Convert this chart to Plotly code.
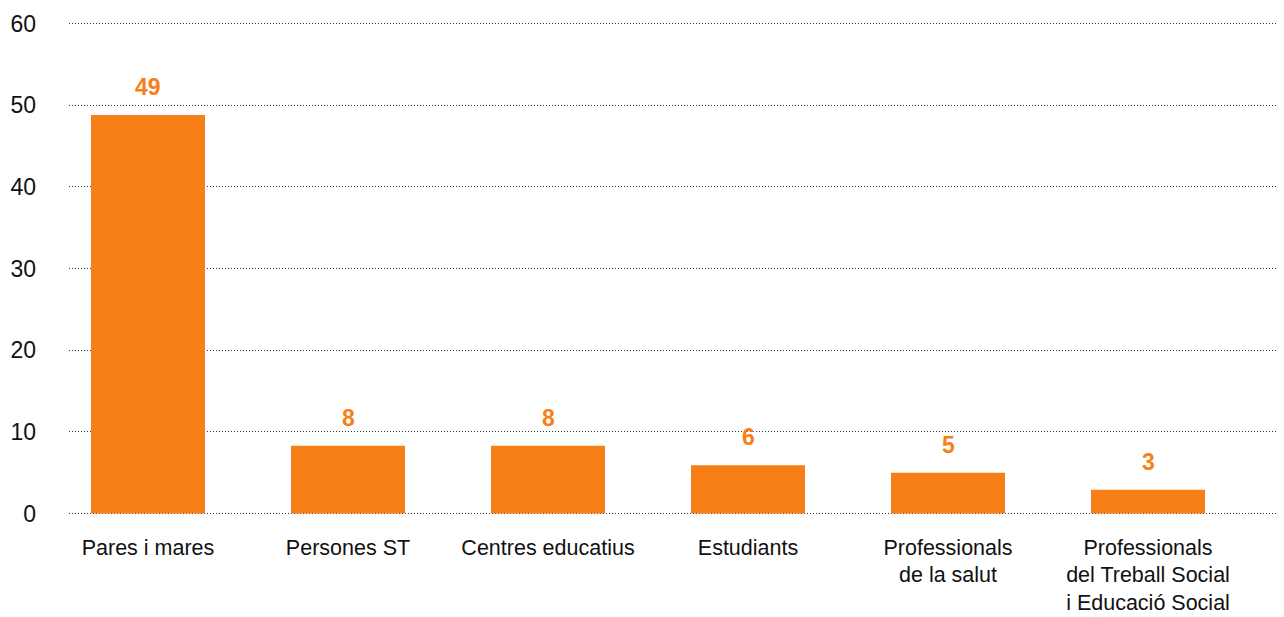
import plotly.graph_objects as go

categories = ["Pares i mares", "Persones ST", "Centres educatius", "Estudiants",
              "Professionals<br>de la salut",
              "Professionals<br>del Treball Social<br>i Educació Social"]
values = [48.8, 8.3, 8.3, 5.9, 5.0, 2.9]
value_labels = ["49", "8", "8", "6", "5", "3"]
y_ticks = [0, 10, 20, 30, 40, 50, 60]

orange = "#F77F17"
font_family = "Liberation Sans, Arial, Helvetica, sans-serif"

x_pos = list(range(len(categories)))

fig = go.Figure(go.Bar(
    x=x_pos,
    y=values,
    marker=dict(color=orange, line=dict(width=0)),
    width=0.57,
))

for xi, v, lab in zip(x_pos, values, value_labels):
    fig.add_annotation(
        x=xi, y=v, text=f"<b>{lab}</b>", showarrow=False,
        yanchor="middle", yshift=28,
        font=dict(family=font_family, size=23, color=orange),
    )

# page body has an 8px margin, so the figure is sized to fit the window
fig.update_layout(
    width=1276, height=609,
    margin=dict(l=61, r=0, t=13, b=101),
    paper_bgcolor="white", plot_bgcolor="white",
    font=dict(family=font_family, size=23, color="#111111"),
    showlegend=False,
)
fig.update_xaxes(
    range=[-0.395, 5.68],
    tickmode="array",
    tickvals=x_pos,
    ticktext=categories,
    showgrid=False, zeroline=False, showline=False,
    ticks="", ticklabelstandoff=16,
    tickfont=dict(size=21.5),
    automargin=False,
)
fig.update_yaxes(
    range=[-0.3, 60.3],
    tickvals=y_ticks,
    showgrid=True, griddash="1px,2px", gridcolor="#333333", gridwidth=1,
    zeroline=False, showline=False,
    ticks="", ticklabelstandoff=32,
    tickfont=dict(size=23),
    automargin=False,
)

fig.write_html("out.html")
